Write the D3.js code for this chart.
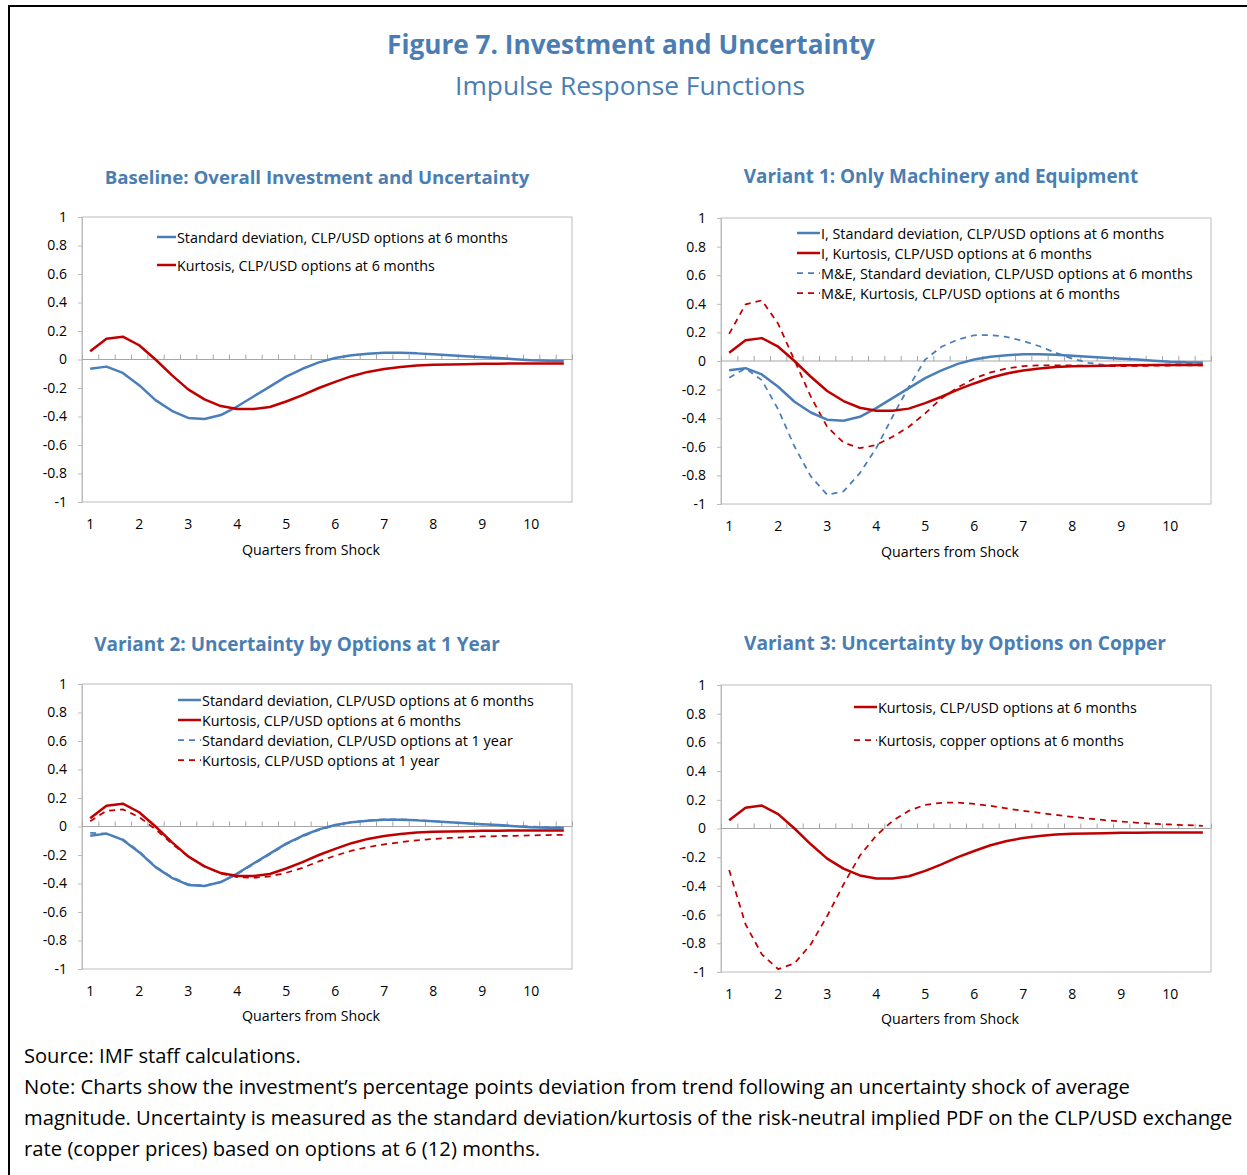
<!DOCTYPE html>
<html>
<head>
<meta charset="utf-8">
<script src="https://cdn.jsdelivr.net/npm/d3@7"></script>
<style>
  html, body { margin: 0; padding: 0; background: #fff; }
  svg { display: block; font-family: "Open Sans", "Noto Sans", sans-serif; }
</style>
</head>
<body>
<svg id="chart" width="1247" height="1175"></svg>
<script>
// ---------------- DATA ----------------
// 30 monthly steps; labelled by quarter (every 3rd step)
const steps = d3.range(30);
const quarterLabels = ["1","2","3","4","5","6","7","8","9","10"];
const yTickValues = [1, 0.8, 0.6, 0.4, 0.2, 0, -0.2, -0.4, -0.6, -0.8, -1];

const stdDev6m = [-0.065,-0.05,-0.094,-0.18,-0.285,-0.36,-0.41,-0.418,-0.39,-0.33,
  -0.26,-0.19,-0.12,-0.065,-0.02,0.01,0.03,0.04,0.047,0.047,
  0.043,0.036,0.029,0.022,0.015,0.01,0.002,-0.005,-0.009,-0.01];
const kurt6m = [0.058,0.145,0.16,0.10,0.0,-0.11,-0.21,-0.28,-0.327,-0.348,
  -0.348,-0.333,-0.295,-0.25,-0.2,-0.157,-0.117,-0.087,-0.066,-0.052,
  -0.042,-0.037,-0.035,-0.033,-0.03,-0.03,-0.028,-0.028,-0.028,-0.028];
const meStdDev6m = [-0.117,-0.052,-0.134,-0.338,-0.598,-0.807,-0.935,-0.912,-0.784,-0.61,
  -0.39,-0.18,0.01,0.10,0.15,0.18,0.182,0.168,0.14,0.103,
  0.057,0.017,-0.013,-0.027,-0.031,-0.031,-0.029,-0.024,-0.02,-0.015];
const meKurt6m = [0.19,0.396,0.424,0.26,0.005,-0.25,-0.46,-0.57,-0.61,-0.587,
  -0.53,-0.46,-0.366,-0.26,-0.185,-0.122,-0.08,-0.052,-0.036,-0.031,
  -0.031,-0.031,-0.034,-0.036,-0.036,-0.034,-0.033,-0.032,-0.03,-0.03];
const stdDev1y = [-0.045,-0.05,-0.09,-0.175,-0.28,-0.355,-0.405,-0.415,-0.39,-0.335,
  -0.265,-0.195,-0.125,-0.07,-0.025,0.008,0.03,0.043,0.05,0.05,
  0.046,0.038,0.03,0.022,0.015,0.009,0.004,-0.001,-0.005,-0.007];
const kurt1y = [0.037,0.11,0.12,0.066,-0.02,-0.12,-0.21,-0.28,-0.33,-0.355,
  -0.36,-0.35,-0.325,-0.29,-0.245,-0.205,-0.17,-0.145,-0.125,-0.11,
  -0.097,-0.088,-0.08,-0.075,-0.07,-0.067,-0.065,-0.062,-0.06,-0.058];
const copperKurt6m = [-0.29,-0.667,-0.877,-0.98,-0.94,-0.807,-0.61,-0.39,-0.19,-0.05,
  0.053,0.123,0.165,0.179,0.181,0.172,0.158,0.14,0.123,0.109,
  0.095,0.081,0.07,0.058,0.049,0.04,0.033,0.028,0.023,0.019];

const figTitle = "Figure 7. Investment and Uncertainty";
const figSubtitle = "Impulse Response Functions";
const panelTitles = [
  "Baseline: Overall Investment and Uncertainty",
  "Variant 1: Only Machinery and Equipment",
  "Variant 2: Uncertainty by Options at 1 Year",
  "Variant 3: Uncertainty by Options on Copper"
];
const xAxisTitle = "Quarters from Shock";
const footerLines = [
  "Source: IMF staff calculations.",
  "Note: Charts show the investment\u2019s percentage points deviation from trend following an uncertainty shock of average",
  "magnitude. Uncertainty is measured as the standard deviation/kurtosis of the risk-neutral implied PDF on the CLP/USD exchange",
  "rate (copper prices) based on options at 6 (12) months."
];

// ---------------- STYLE ----------------
const BLUE = "#4a7ebb";
const RED = "#c00000";
const TITLE_BLUE = "#4a7eb3";
const solid = {dash: null, width: 2.5};
const dashed = {dash: "6,5", width: 1.75};

const panels = [
  { title: panelTitles[0], tx: 317, ty: 176, tw: 425,
    box: {l: 82, r: 572, t: 217, b: 502},
    axT: {x: 311, y: 549, w: 138},
    legend: {x1: 157, x2: 176, tx: 177, rows: [237, 265]},
    series: [
      {name: "Standard deviation, CLP/USD options at 6 months", values: stdDev6m, color: BLUE, st: solid, w: 331},
      {name: "Kurtosis, CLP/USD options at 6 months", values: kurt6m, color: RED, st: solid, w: 258}
    ]},
  { title: panelTitles[1], tx: 941, ty: 176, tw: 395,
    box: {l: 721, r: 1211, t: 218, b: 504},
    axT: {x: 950, y: 551, w: 138},
    legend: {x1: 797, x2: 820, tx: 821, rows: [233, 253, 273, 293]},
    series: [
      {name: "M&E, Standard deviation, CLP/USD options at 6 months", values: meStdDev6m, color: BLUE, st: dashed, w: 372},
      {name: "M&E, Kurtosis, CLP/USD options at 6 months", values: meKurt6m, color: RED, st: dashed, w: 299},
      {name: "I, Standard deviation, CLP/USD options at 6 months", values: stdDev6m, color: BLUE, st: solid, w: 343},
      {name: "I, Kurtosis, CLP/USD options at 6 months", values: kurt6m, color: RED, st: solid, w: 271}
    ], legendOrder: [2, 3, 0, 1]},
  { title: panelTitles[2], tx: 297, ty: 644, tw: 406,
    box: {l: 82, r: 572, t: 684, b: 969},
    axT: {x: 311, y: 1015, w: 138},
    legend: {x1: 178, x2: 201, tx: 202, rows: [700, 720, 740, 760]},
    series: [
      {name: "Standard deviation, CLP/USD options at 1 year", values: stdDev1y, color: BLUE, st: dashed, w: 311},
      {name: "Kurtosis, CLP/USD options at 1 year", values: kurt1y, color: RED, st: dashed, w: 238},
      {name: "Standard deviation, CLP/USD options at 6 months", values: stdDev6m, color: BLUE, st: solid, w: 332},
      {name: "Kurtosis, CLP/USD options at 6 months", values: kurt6m, color: RED, st: solid, w: 259}
    ], legendOrder: [2, 3, 0, 1]},
  { title: panelTitles[3], tx: 955, ty: 643, tw: 422,
    box: {l: 721, r: 1211, t: 685, b: 972},
    axT: {x: 950, y: 1018, w: 138},
    legend: {x1: 854, x2: 877, tx: 878, rows: [707, 740]},
    series: [
      {name: "Kurtosis, copper options at 6 months", values: copperKurt6m, color: RED, st: dashed, w: 246},
      {name: "Kurtosis, CLP/USD options at 6 months", values: kurt6m, color: RED, st: solid, w: 259}
    ], legendOrder: [1, 0]}
];

// ---------------- DRAW ----------------
const svg = d3.select("#chart");
svg.append("rect").attr("width", 1247).attr("height", 1175).attr("fill", "#fff");

// outer frame (top + left)
svg.append("path").attr("d", "M9,1175 V6 H1247").attr("fill", "none")
  .attr("stroke", "#000").attr("stroke-width", 2);

function fit(sel, target) {
  const node = sel.node();
  const fs = parseFloat(sel.attr("font-size"));
  const len = node.getComputedTextLength();
  if (len > 0) sel.attr("font-size", (fs * target / len).toFixed(2));
  return sel;
}

fit(svg.append("text").attr("x", 631).attr("y", 44).attr("text-anchor", "middle")
  .attr("dominant-baseline", "central").attr("font-size", 26).attr("font-weight", "bold")
  .attr("fill", TITLE_BLUE).text(figTitle), 488);
fit(svg.append("text").attr("x", 630).attr("y", 85).attr("text-anchor", "middle")
  .attr("dominant-baseline", "central").attr("font-size", 26)
  .attr("fill", TITLE_BLUE).text(figSubtitle), 350);

panels.forEach(p => {
  const g = svg.append("g");
  const {l, r, t, b} = p.box;
  const x = d3.scaleBand().domain(steps).range([l, r]);
  const y = d3.scaleLinear().domain([-1, 1]).range([b, t]);
  const cx = i => x(i) + x.bandwidth() / 2;

  // panel title
  fit(g.append("text").attr("x", p.tx).attr("y", p.ty).attr("text-anchor", "middle")
    .attr("dominant-baseline", "central").attr("font-size", 19).attr("font-weight", "bold")
    .attr("fill", TITLE_BLUE).text(p.title), p.tw);

  // plot frame
  g.append("rect").attr("x", l).attr("y", t).attr("width", r - l).attr("height", b - t)
    .attr("fill", "none").attr("stroke", "#bcbcbc").attr("stroke-width", 1);

  // y axis
  const yAxis = d3.axisLeft(y).tickValues(yTickValues).tickSize(4).tickPadding(11)
    .tickFormat(v => (Math.round(v * 10) / 10).toString());
  const ya = g.append("g").attr("transform", `translate(${l},0)`).call(yAxis);
  ya.select(".domain").attr("stroke", "#bcbcbc");
  ya.selectAll(".tick line").attr("stroke", "#bcbcbc");
  ya.selectAll(".tick text").attr("font-size", 14).attr("fill", "#000")
    .attr("font-family", "\"Open Sans\", sans-serif");

  // zero line with category tick marks (upward)
  const y0 = y(0);
  const zx = d3.axisTop(d3.scaleLinear().domain([0, 30]).range([l, r]))
    .tickValues(d3.range(0, 31)).tickSize(5).tickFormat("");
  const za = g.append("g").attr("transform", `translate(0,${y0})`).call(zx);
  za.select(".domain").attr("d", `M${l},0H${r}`).attr("stroke", "#a6a6a6");
  za.selectAll(".tick line").attr("stroke", "#a6a6a6");

  // x labels (quarters) every 3 steps
  const xAxis = d3.axisBottom(x).tickValues(steps.filter(i => i % 3 === 0))
    .tickSize(0).tickPadding(17).tickFormat(i => quarterLabels[i / 3]);
  const xa = g.append("g").attr("transform", `translate(0,${b})`).call(xAxis);
  xa.select(".domain").remove();
  xa.selectAll(".tick text").attr("font-size", 14).attr("fill", "#000")
    .attr("font-family", "\"Open Sans\", sans-serif");

  // axis title
  fit(g.append("text").attr("x", p.axT.x).attr("y", p.axT.y).attr("text-anchor", "middle")
    .attr("dominant-baseline", "central").attr("font-size", 14).attr("fill", "#000")
    .text(xAxisTitle), p.axT.w);

  // series
  const line = d3.line().x((d, i) => cx(i)).y(d => y(d));
  p.series.forEach(s => {
    g.append("path").datum(s.values).attr("d", line).attr("fill", "none")
      .attr("stroke", s.color).attr("stroke-width", s.st.width)
      .attr("stroke-dasharray", s.st.dash).attr("stroke-linejoin", "round");
  });

  // legend
  const order = p.legendOrder || p.series.map((_, i) => i);
  order.forEach((si, row) => {
    const s = p.series[si];
    const ry = p.legend.rows[row];
    g.append("line").attr("x1", p.legend.x1).attr("x2", p.legend.x2)
      .attr("y1", ry).attr("y2", ry).attr("stroke", s.color)
      .attr("stroke-width", s.st.width).attr("stroke-dasharray", s.st.dash);
    fit(g.append("text").attr("x", p.legend.tx).attr("y", ry)
      .attr("dominant-baseline", "central").attr("font-size", 14).attr("fill", "#000")
      .text(s.name), s.w);
  });
});

// footer
const footerY = [1055, 1086, 1117, 1148];
const footerW = [277, 1106, 1209, 516];
footerLines.forEach((txt, i) => {
  fit(svg.append("text").attr("x", 24).attr("y", footerY[i]).attr("dominant-baseline", "central")
    .attr("font-size", 19).attr("fill", "#000").text(txt), footerW[i]);
});
</script>
</body>
</html>
